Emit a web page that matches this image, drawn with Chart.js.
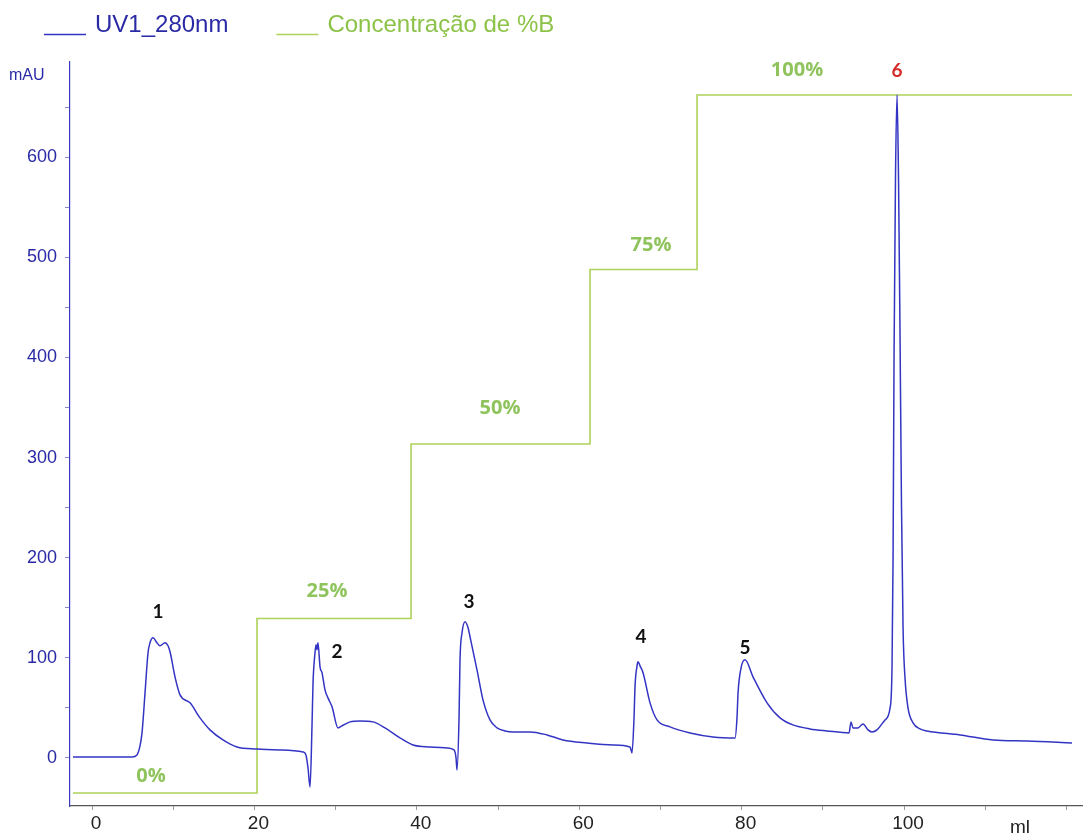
<!DOCTYPE html>
<html>
<head>
<meta charset="utf-8">
<script src="https://cdn.jsdelivr.net/npm/chart.js@4.4.0/dist/chart.umd.min.js"></script>
<style>
  html, body { margin: 0; padding: 0; background: #fff; }
</style>
</head>
<body>
<canvas id="chromatogram" width="1083" height="836"></canvas>
<script>
'use strict';

// UV1_280nm trace, volume (ml) and absorbance (mAU)
const uvVolume = [-2.34, 4.93, 5.54, 5.91, 6.16, 6.53, 6.90, 7.14, 7.51, 8.00, 8.37, 8.99, 9.36, 9.61, 10.22, 10.84, 12.07, 13.30, 14.53, 16.13, 17.86, 20.32, 23.15, 25.99, 26.35, 26.60, 26.85, 27.09, 27.22, 27.46, 27.59, 27.71, 27.83, 28.08, 28.33, 28.69, 29.06, 29.56, 30.30, 30.79, 31.77, 33.00, 34.61, 36.08, 37.93, 39.53, 41.63, 43.72, 44.58, 44.83, 44.95, 45.20, 45.32, 45.57, 45.94, 46.31, 46.55, 47.41, 48.15, 49.01, 49.88, 50.86, 51.85, 53.94, 56.03, 58.00, 60.96, 64.16, 66.26, 66.50, 66.75, 66.87, 67.12, 67.24, 67.49, 67.86, 68.72, 69.58, 71.18, 73.65, 76.48, 79.19, 79.43, 79.56, 79.93, 80.42, 81.40, 83.13, 84.73, 86.33, 88.42, 90.52, 93.23, 93.47, 93.72, 94.33, 94.95, 95.57, 96.06, 96.67, 97.66, 98.28, 98.52, 98.65, 98.77, 98.95, 99.14, 99.32, 99.51, 99.69, 99.88, 100.12, 100.49, 101.11, 101.97, 102.83, 106.90, 110.96, 115.15, 120.69];
const uvAbs = [1, 1, 3, 12, 25, 65, 105, 115, 120, 115, 112, 115, 112, 106, 81, 63, 55, 40, 28, 18, 11, 9, 8, 6, 3, -10, -29, 31, 75, 105, 113, 108, 115, 91, 85, 68, 60, 51, 30, 32, 36, 37, 36, 30, 20, 13, 11, 10, 8, 0, -12, 40, 98, 125, 136, 130, 121, 88, 58, 38, 30, 27, 26, 26, 23, 18, 15, 13, 11, 5, 40, 71, 92, 96, 92, 85, 55, 38, 31, 25, 21, 20, 40, 65, 90, 98, 81, 55, 40, 33, 29, 27, 25, 36, 30, 30, 34, 28, 26, 28, 38, 50, 90, 200, 400, 580, 662, 580, 420, 250, 130, 80, 50, 35, 29, 27, 23, 18, 17, 15];

// step gradient, volume (ml) and %B
const stepVolume = [-2.34, 20.32, 39.29, 61.33, 74.51, 120.69];
const stepPercent = [0, 25, 50, 75, 100, 100];

const seriesNames = ['UV1_280nm', 'Concentração de %B'];

// axis ticks
const xTicks = [0, 10, 20, 30, 40, 50, 60, 70, 80, 90, 100, 110, 120];
const xLabelled = [0, 20, 40, 60, 80, 100];
const yTicks = [0, 50, 100, 150, 200, 250, 300, 350, 400, 450, 500, 550, 600, 650];
const yLabelled = [0, 100, 200, 300, 400, 500, 600];

// peak numbers, placed in data units
const peakNames = ['1', '2', '3', '4', '5', '6'];
const peakX = [8.13, 30.17, 46.43, 67.61, 80.42, 99.14];
const peakY = [146, 106, 156, 121, 110, 686];

// %B level labels, placed in data units
const levelNames = ['0%', '25%', '50%', '75%', '100%'];
const levelX = [7.27, 28.94, 50.25, 68.84, 86.82];
const levelY = [-18, 166, 349, 512, 687];

const blue = '#3434c4';
const green = '#aed15a';

const labelsPlugin = {
  id: 'chromLabels',
  afterDraw(chart) {
    const { ctx } = chart;
    const x = chart.scales.x;
    const y = chart.scales.y;
    ctx.save();

    // legend
    ctx.font = '24px "Liberation Sans", Arial, sans-serif';
    ctx.textBaseline = 'alphabetic';
    ctx.textAlign = 'left';
    const legendText = ['#2a2aa6', '#8cc248'];
    let lx = 44;
    chart.data.datasets.forEach((ds, i) => {
      ctx.strokeStyle = ds.borderColor;
      ctx.lineWidth = 1.3;
      ctx.beginPath();
      ctx.moveTo(lx, 34.5);
      ctx.lineTo(lx + 42, 34.5);
      ctx.stroke();
      ctx.fillStyle = legendText[i];
      ctx.fillText(ds.label, lx + 51, 32);
      lx += 51 + ctx.measureText(ds.label).width + 48;
    });

    // units
    ctx.fillStyle = '#2a2aa6';
    ctx.font = '16px "Liberation Sans", Arial, sans-serif';
    ctx.textBaseline = 'middle';
    ctx.fillText('mAU', 9, 76);
    ctx.fillStyle = '#222';
    ctx.font = '19px "Liberation Sans", Arial, sans-serif';
    ctx.textBaseline = 'top';
    ctx.fillText('ml', 1010, 818);

    // peak numbers
    ctx.textAlign = 'center';
    ctx.textBaseline = 'middle';
    ctx.font = 'bold 19px Lato, "Open Sans", sans-serif';
    peakNames.forEach((name, i) => {
      ctx.fillStyle = i === 5 ? '#d62b2b' : '#111';
      ctx.fillText(name, x.getPixelForValue(peakX[i]), y.getPixelForValue(peakY[i]));
    });

    // %B levels
    ctx.font = 'bold 20px "Open Sans", Roboto, sans-serif';
    ctx.fillStyle = '#8fc45c';
    levelNames.forEach((name, i) => {
      ctx.fillText(name, x.getPixelForValue(levelX[i]), y.getPixelForValue(levelY[i]));
    });

    ctx.restore();
  }
};

const uvData = uvVolume.map((v, i) => ({ x: v, y: uvAbs[i] }));
const stepData = stepVolume.map((v, i) => ({ x: v, y: stepPercent[i] }));

new Chart(document.getElementById('chromatogram'), {
  type: 'line',
  data: {
    datasets: [
      {
        label: seriesNames[0],
        data: uvData,
        borderColor: blue,
        borderWidth: 1.5,
        pointRadius: 0,
        cubicInterpolationMode: 'monotone',
        yAxisID: 'y'
      },
      {
        label: seriesNames[1],
        data: stepData,
        borderColor: green,
        borderWidth: 1.6,
        pointRadius: 0,
        stepped: true,
        yAxisID: 'yB'
      }
    ]
  },
  options: {
    responsive: false,
    animation: false,
    devicePixelRatio: 1,
    layout: { padding: { top: 62, left: 0, right: 0, bottom: 0 } },
    plugins: {
      legend: { display: false },
      tooltip: { enabled: false }
    },
    scales: {
      x: {
        type: 'linear',
        min: -2.71,
        max: 122.04,
        afterBuildTicks: s => { s.ticks = xTicks.map(v => ({ value: v })); },
        afterFit: s => { s.height = 30; },
        border: { display: true, color: '#555', width: 1.2 },
        grid: { drawOnChartArea: false, drawTicks: true, tickLength: 4, color: '#999' },
        ticks: {
          autoSkip: false,
          maxRotation: 0,
          padding: 2,
          labelOffset: 4,
          color: '#222',
          font: { family: '"Liberation Sans", Arial, sans-serif', size: 19 },
          callback: v => xLabelled.includes(v) ? String(v) : ''
        }
      },
      y: {
        type: 'linear',
        min: -48,
        max: 695,
        afterBuildTicks: s => { s.ticks = yTicks.map(v => ({ value: v })); },
        afterFit: s => { s.width = 70; },
        border: { display: true, color: '#3c3cc0', width: 1.2 },
        grid: { drawOnChartArea: false, drawTicks: true, tickLength: 5, color: '#8888cc' },
        ticks: {
          autoSkip: false,
          padding: 8,
          color: '#2a2aa6',
          font: { family: '"Liberation Sans", Arial, sans-serif', size: 18 },
          callback: v => yLabelled.includes(v) ? String(v) : ''
        }
      },
      yB: {
        type: 'linear',
        display: false,
        min: -1.865,
        max: 104.73
      }
    }
  },
  plugins: [labelsPlugin]
});
</script>
</body>
</html>
